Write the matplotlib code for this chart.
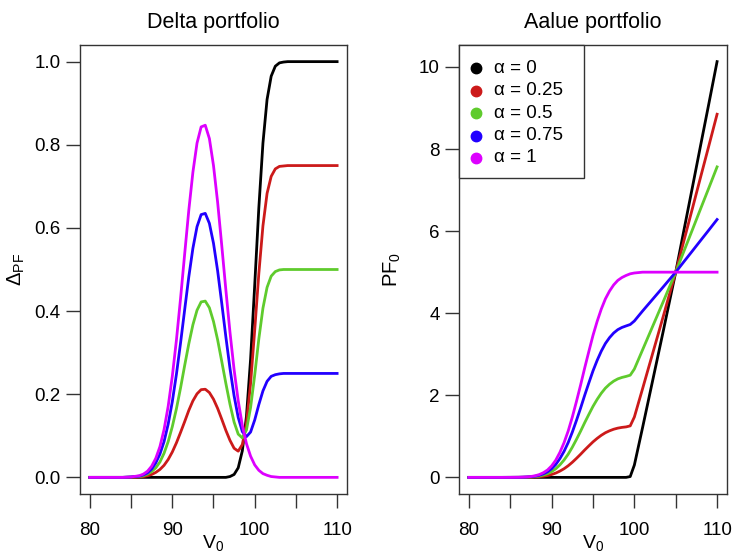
import numpy as np
import matplotlib
matplotlib.use("Agg")
import matplotlib.pyplot as plt
from matplotlib.patches import Rectangle

plt.rcParams['font.family'] = ['Liberation Sans', 'DejaVu Sans']
plt.rcParams['mathtext.fontset'] = 'custom'
plt.rcParams['mathtext.rm'] = 'Liberation Sans'

# V0 grid
V0 = [80, 82, 84, 85, 86, 86.5, 87, 87.5, 88, 88.5,
      89, 89.5, 90, 90.5, 91, 91.5, 92, 92.5, 93, 93.5,
      94, 94.5, 95, 95.5, 96, 96.5, 97, 97.5, 98, 98.5,
      99, 99.5, 100, 100.5, 101, 101.5, 102, 102.5, 103, 103.5,
      104, 105, 106, 107, 108, 109, 110]

alphas = ["0", "0.25", "0.5", "0.75", "1"]
colors = ["black", "#CC1A1A", "#5FCB2D", "#2200FF", "#DD00FF"]

# delta of portfolio
delta_a0 = [0, 0, 0, 0, 0, 0, 0, 0, 0, 0,
            0, 0, 0, 0, 0, 0, 0, 0, 0, 0,
            0, 0, 0, 0, 0, 0, 0.002, 0.007, 0.023, 0.064,
            0.147, 0.284, 0.462, 0.648, 0.804, 0.909, 0.965, 0.989, 0.997, 0.999,
            1, 1, 1, 1, 1, 1, 1]
delta_a025 = [0, 0, 0, 0, 0.001, 0.002, 0.004, 0.007, 0.012, 0.019,
              0.029, 0.043, 0.061, 0.083, 0.108, 0.134, 0.161, 0.184, 0.201, 0.211,
              0.212, 0.204, 0.188, 0.166, 0.140, 0.113, 0.089, 0.070, 0.063, 0.079,
              0.130, 0.226, 0.354, 0.490, 0.605, 0.683, 0.724, 0.742, 0.748, 0.749,
              0.75, 0.75, 0.75, 0.75, 0.75, 0.75, 0.75]
delta_a05 = [0, 0, 0, 0.001, 0.002, 0.004, 0.008, 0.014, 0.023, 0.037,
             0.058, 0.086, 0.122, 0.165, 0.215, 0.269, 0.321, 0.367, 0.402, 0.422,
             0.424, 0.408, 0.375, 0.331, 0.279, 0.226, 0.176, 0.133, 0.104, 0.095,
             0.114, 0.168, 0.246, 0.333, 0.407, 0.457, 0.484, 0.495, 0.499, 0.500,
             0.5, 0.5, 0.5, 0.5, 0.5, 0.5, 0.5]
delta_a075 = [0, 0, 0, 0.001, 0.003, 0.006, 0.011, 0.020, 0.035, 0.056,
              0.086, 0.128, 0.182, 0.248, 0.323, 0.403, 0.482, 0.551, 0.603, 0.632,
              0.635, 0.611, 0.563, 0.497, 0.419, 0.338, 0.262, 0.196, 0.144, 0.110,
              0.098, 0.109, 0.138, 0.175, 0.208, 0.231, 0.243, 0.247, 0.249, 0.250,
              0.25, 0.25, 0.25, 0.25, 0.25, 0.25, 0.25]
delta_a1 = [0, 0, 0, 0.001, 0.004, 0.008, 0.015, 0.027, 0.046, 0.074,
            0.115, 0.171, 0.243, 0.330, 0.430, 0.537, 0.642, 0.734, 0.804, 0.843,
            0.847, 0.815, 0.750, 0.662, 0.558, 0.451, 0.349, 0.259, 0.184, 0.125,
            0.081, 0.051, 0.030, 0.017, 0.009, 0.005, 0.002, 0.001, 0, 0,
            0, 0, 0, 0, 0, 0, 0]

# value of portfolio
pf_a0 = [0, 0, 0, 0, 0, 0, 0, 0, 0, 0,
         0, 0, 0, 0, 0, 0, 0, 0, 0, 0,
         0, 0, 0, 0, 0, 0, 0, 0, 0, 0,
         0, 0.02, 0.30, 0.76, 1.22, 1.69, 2.16, 2.63, 3.10, 3.57,
         4.05, 5.00, 6.03, 7.05, 8.08, 9.10, 10.13]
pf_a025 = [0, 0, 0, 0, 0.001, 0.002, 0.003, 0.006, 0.010, 0.017,
           0.029, 0.045, 0.070, 0.105, 0.153, 0.211, 0.283, 0.368, 0.463, 0.563,
           0.668, 0.768, 0.865, 0.950, 1.025, 1.088, 1.135, 1.173, 1.200, 1.218,
           1.230, 1.255, 1.470, 1.818, 2.165, 2.518, 2.870, 3.223, 3.575, 3.928,
           4.288, 5.000, 5.773, 6.538, 7.310, 8.075, 8.848]
pf_a05 = [0, 0, 0, 0.001, 0.002, 0.003, 0.006, 0.011, 0.020, 0.034,
          0.057, 0.090, 0.140, 0.210, 0.305, 0.423, 0.565, 0.735, 0.925, 1.125,
          1.335, 1.535, 1.730, 1.900, 2.050, 2.175, 2.270, 2.345, 2.400, 2.435,
          2.460, 2.490, 2.640, 2.875, 3.110, 3.345, 3.580, 3.815, 4.050, 4.285,
          4.525, 5.000, 5.515, 6.025, 6.540, 7.050, 7.565]
pf_a075 = [0, 0, 0, 0.001, 0.002, 0.005, 0.009, 0.017, 0.029, 0.051,
           0.086, 0.135, 0.210, 0.315, 0.458, 0.634, 0.848, 1.103, 1.388, 1.688,
           2.003, 2.303, 2.595, 2.850, 3.075, 3.263, 3.405, 3.518, 3.600, 3.653,
           3.690, 3.725, 3.810, 3.933, 4.055, 4.173, 4.290, 4.408, 4.525, 4.643,
           4.763, 5.000, 5.258, 5.513, 5.770, 6.025, 6.283]
pf_a1 = [0, 0, 0, 0.001, 0.003, 0.006, 0.012, 0.022, 0.039, 0.068,
         0.114, 0.18, 0.28, 0.42, 0.61, 0.845, 1.13, 1.47, 1.85, 2.25,
         2.67, 3.07, 3.46, 3.80, 4.10, 4.35, 4.54, 4.69, 4.80, 4.87,
         4.92, 4.96, 4.98, 4.99, 5.0, 5.0, 5.0, 5.0, 5.0, 5.0,
         5.0, 5.0, 5.0, 5.0, 5.0, 5.0, 5.0]

xticks = [80, 85, 90, 95, 100, 105, 110]
xticklabels = ["80", "", "90", "", "100", "", "110"]
delta_ticks = [0.0, 0.2, 0.4, 0.6, 0.8, 1.0]
pf_ticks = [0, 2, 4, 6, 8, 10]

W, H = 734, 555
fig = plt.figure(figsize=(W / 100, H / 100), dpi=100)
ax1 = fig.add_axes([80 / W, 1 - 494 / H, 267 / W, 449 / H])
ax2 = fig.add_axes([459 / W, 1 - 494 / H, 268 / W, 449 / H])


def style(ax):
    ax.set_xlim(78.8, 111.2)
    ax.set_xticks(xticks)
    ax.set_xticklabels(xticklabels)
    ax.tick_params(axis='both', direction='out', length=10, width=1,
                   labelsize=13.5, color='#333333')
    ax.tick_params(axis='x', pad=10.5)
    ax.tick_params(axis='y', pad=4)
    for s in ax.spines.values():
        s.set_linewidth(1.0)
        s.set_color('#333333')
    ax.set_xlabel(r"$\mathregular{V_0}$", fontsize=14)
    ax.xaxis.set_label_coords(0.5, -0.086)
    ax.xaxis.label.set_va('top')


lw = 2.0
for ys, c in zip([delta_a0, delta_a025, delta_a05, delta_a075, delta_a1], colors):
    ax1.plot(V0, ys, color=c, lw=lw)
style(ax1)
ax1.set_ylim(-0.04, 1.04)
ax1.set_yticks(delta_ticks)
ax1.set_yticklabels(["%.1f" % t for t in delta_ticks])
ax1.set_ylabel(r"$\mathregular{\Delta_{PF}}$", fontsize=14.5)
ax1.yaxis.set_label_coords(-0.2, 0.5)
ax1.set_title("Delta portfolio", fontsize=15.5, pad=12)

for ys, c in zip([pf_a0, pf_a025, pf_a05, pf_a075, pf_a1], colors):
    ax2.plot(V0, ys, color=c, lw=lw)
style(ax2)
ax2.set_ylim(-0.405, 10.535)
ax2.set_yticks(pf_ticks)
ax2.set_yticklabels([str(t) for t in pf_ticks])
ax2.set_ylabel(r"$\mathregular{PF_0}$", fontsize=14.5)
ax2.yaxis.set_label_coords(-0.21, 0.5)
ax2.set_title("Aalue portfolio", fontsize=15.5, pad=12)

# legend box drawn by hand, R style
tr = ax2.transAxes
box_w = 125 / 268
box_h = 133 / 449
ax2.add_patch(Rectangle((0, 1 - box_h), box_w, box_h, transform=tr,
                        facecolor='white', edgecolor='#333333', lw=1.0,
                        zorder=5, clip_on=False))
row_h = 22.4 / 449
first = 1 - 23.3 / 449
for i, (a, c) in enumerate(zip(alphas, colors)):
    yy = first - i * row_h
    ax2.plot([16.7 / 268], [yy], 'o', ms=7.5, color=c, transform=tr,
             zorder=6, clip_on=False)
    ax2.text(35 / 268, yy, "\u03b1 = " + a, transform=tr, fontsize=13.5,
             va='center', ha='left', zorder=6)

fig.savefig("out.png", dpi=100)
